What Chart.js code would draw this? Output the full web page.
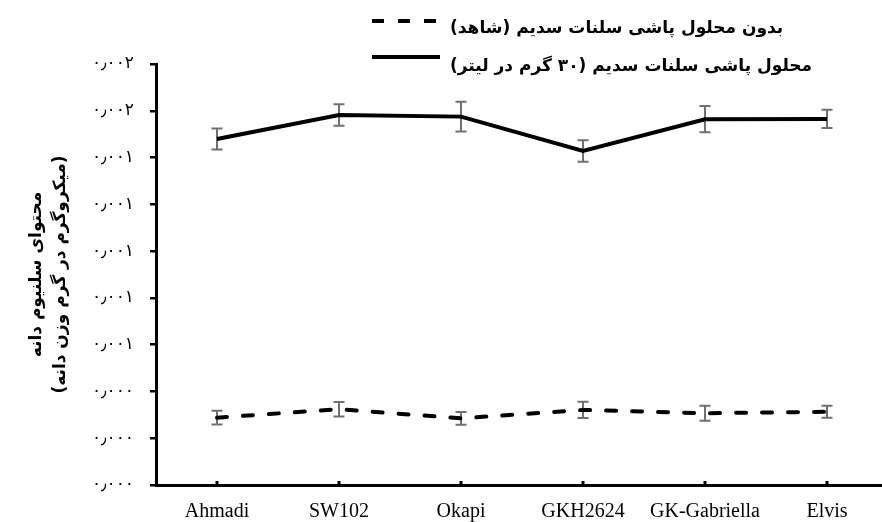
<!DOCTYPE html>
<html>
<head>
<meta charset="utf-8">
<script src="https://cdn.jsdelivr.net/npm/chart.js@4.4.1/dist/chart.umd.min.js"></script>
<style>
  html, body { margin: 0; padding: 0; overflow: hidden; background: #fff; }
  #wrap { width: 888px; height: 522px; }
</style>
</head>
<body>
<div id="wrap"><canvas id="selenium" dir="rtl"></canvas></div>
<script>
const categories = ['Ahmadi', 'SW102', 'Okapi', 'GKH2624', 'GK-Gabriella', 'Elvis'];
const controlValues = [0.000288, 0.000324, 0.000285, 0.000321, 0.000307, 0.000313];
const controlErrors = [0.000029, 0.000031, 0.000027, 0.000035, 0.000032, 0.000026];
const sprayValues = [0.001479, 0.001582, 0.001575, 0.001428, 0.001564, 0.001565];
const sprayErrors = [0.000045, 0.000046, 0.000064, 0.000046, 0.000056, 0.000039];
const yTicks = [0, 0.0002, 0.0004, 0.0006, 0.0008, 0.001, 0.0012, 0.0014, 0.0016, 0.0018];
const seriesNames = ['بدون محلول پاشی سلنات سدیم (شاهد)', 'محلول پاشی سلنات سدیم (۳۰ گرم در لیتر)'];
const yTitle = ['محتوای سلنیوم دانه', '(میکروگرم در گرم وزن دانه)'];

const faDigits = '۰۱۲۳۴۵۶۷۸۹';
function toPersian(v) {
    return v.toFixed(3).replace(/\d/g, d => faDigits[d]).replace('.', '٫');
}

// error bars, drawn under the lines
const errorBars = {
    id: 'errorBars',
    beforeDatasetsDraw(chart) {
        const ctx = chart.ctx;
        const y = chart.scales.y;
        ctx.save();
        ctx.strokeStyle = '#707070';
        ctx.lineWidth = 2;
        chart.data.datasets.forEach((ds, di) => {
            const meta = chart.getDatasetMeta(di);
            ds.data.forEach((v, i) => {
                const x = meta.data[i].x;
                const top = y.getPixelForValue(v + ds.errors[i]);
                const bot = y.getPixelForValue(v - ds.errors[i]);
                ctx.beginPath();
                ctx.moveTo(x, top); ctx.lineTo(x, bot);
                ctx.moveTo(x - 5.5, top); ctx.lineTo(x + 5.5, top);
                ctx.moveTo(x - 5.5, bot); ctx.lineTo(x + 5.5, bot);
                ctx.stroke();
            });
        });
        ctx.restore();
    },
    afterDraw(chart) {
        const ctx = chart.ctx;
        const area = chart.chartArea;
        // small inward ticks on the x axis
        ctx.save();
        ctx.strokeStyle = '#000';
        ctx.lineWidth = 3;
        chart.getDatasetMeta(0).data.forEach(p => {
            ctx.beginPath();
            ctx.moveTo(p.x, area.bottom);
            ctx.lineTo(p.x, area.bottom - 4);
            ctx.stroke();
        });
        // legend, two rows, sample on the left of the text
        const rows = [{ line: 21, text: 29 }, { line: 57, text: 67 }];
        chart.data.datasets.forEach((ds, di) => {
            ctx.beginPath();
            ctx.strokeStyle = ds.borderColor;
            ctx.lineWidth = 4;
            ctx.lineCap = 'butt';
            ctx.setLineDash(ds.borderDash.length ? [12, 14] : []);
            ctx.moveTo(372, rows[di].line);
            ctx.lineTo(440, rows[di].line);
            ctx.stroke();
            ctx.setLineDash([]);
            ctx.fillStyle = '#000';
            ctx.font = 'bold 17px "DejaVu Sans"';
            ctx.direction = 'rtl';
            ctx.textAlign = 'left';
            ctx.textBaseline = 'middle';
            ctx.fillText(ds.label, 450, rows[di].text);
        });
        ctx.restore();
    }
};

new Chart(document.getElementById('selenium'), {
    type: 'line',
    data: {
        labels: categories,
        datasets: [{
            label: seriesNames[0],
            data: controlValues,
            errors: controlErrors,
            borderColor: '#000',
            borderWidth: 4,
            borderDash: [10, 16],
            borderCapStyle: 'round',
            pointRadius: 0,
            tension: 0
        }, {
            label: seriesNames[1],
            data: sprayValues,
            errors: sprayErrors,
            borderColor: '#000',
            borderWidth: 4,
            borderDash: [],
            pointRadius: 0,
            tension: 0
        }]
    },
    options: {
        responsive: true,
        maintainAspectRatio: false,
        animation: false,
        layout: { padding: { top: 64, left: 0, right: 0, bottom: 0 } },
        plugins: {
            legend: { display: false },
            tooltip: { enabled: false }
        },
        scales: {
            x: {
                offset: true,
                afterFit: scale => { scale.height = 37; },
                grid: { display: false, drawTicks: false },
                border: { color: '#000', width: 3 },
                ticks: {
                    color: '#000',
                    padding: 15,
                    font: { family: '"Liberation Serif"', size: 20 }
                }
            },
            y: {
                min: 0,
                max: 0.0018,
                afterBuildTicks: scale => { scale.ticks = yTicks.map(v => ({ value: v })); },
                afterFit: scale => { scale.width = 156; },
                grid: {
                    drawOnChartArea: false,
                    color: '#000',
                    lineWidth: 2.5,
                    tickLength: 6
                },
                border: { color: '#000', width: 3 },
                ticks: {
                    color: '#000',
                    padding: 16,
                    font: { family: '"DejaVu Sans"', size: 17 },
                    callback: v => toPersian(v)
                },
                title: {
                    display: true,
                    text: yTitle,
                    color: '#000',
                    padding: { top: 24, bottom: 0 },
                    font: { family: '"DejaVu Sans"', size: 17, weight: 'bold', lineHeight: 1.45 }
                }
            }
        }
    },
    plugins: [errorBars]
});
</script>
</body>
</html>
